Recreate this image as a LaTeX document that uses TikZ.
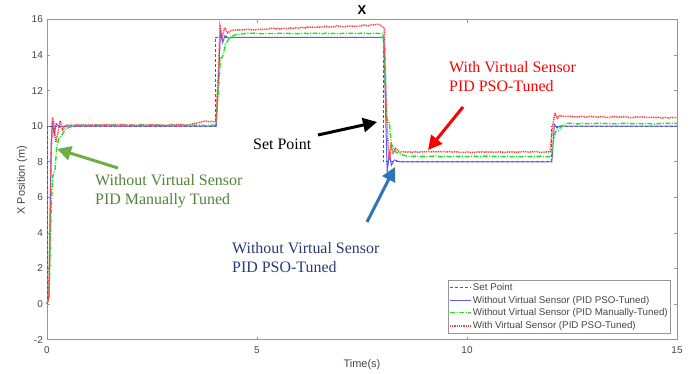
\documentclass[tikz,border=0pt]{standalone}
\usepackage{fontspec}
\setmainfont{Liberation Serif}
\newfontfamily\axfont{Liberation Sans}
\usetikzlibrary{positioning}
\usetikzlibrary{fit}
\usetikzlibrary{arrows.meta}
\definecolor{axline}{RGB}{150,150,150}
\definecolor{axtext}{RGB}{70,70,70}
\definecolor{spgray}{RGB}{90,90,90}
\definecolor{pidblue}{RGB}{90,90,255}
\definecolor{pidgreen}{RGB}{30,230,30}
\definecolor{pidred}{RGB}{255,60,60}
\definecolor{notegreen}{RGB}{84,130,53}
\definecolor{arrgreen}{RGB}{112,173,71}
\definecolor{arrblue}{RGB}{46,117,182}
\definecolor{noteblue}{RGB}{40,60,115}
\tikzset{ticklab/.style={font=\axfont\fontsize{10}{12}\selectfont, text=axtext, inner sep=0pt}}
\tikzset{axlab/.style={font=\axfont\fontsize{11}{13}\selectfont, text=axtext, inner sep=0pt}}
\tikzset{legtxt/.style={font=\axfont\fontsize{9.8}{11}\selectfont, text=axtext, inner sep=0pt, anchor=west}}
\tikzset{setline/.style={spgray, line width=1bp, dash pattern=on 3bp off 2bp}}
\tikzset{blueline/.style={pidblue, line width=1bp}}
\tikzset{greenline/.style={pidgreen, line width=1.4bp, dash pattern=on 5bp off 1.5bp on 1bp off 1.5bp}}
\tikzset{redline/.style={pidred, line width=1.5bp, dash pattern=on 1bp off 0.8bp}}
\tikzset{note/.style={font=\fontsize{16}{19}\selectfont, align=left, inner sep=0pt, anchor=west}}
\tikzset{callout/.style={line width=3bp, -{Triangle[length=14bp,width=14bp]}}}

\begin{document}
\begin{tikzpicture}[x=1bp, y=1bp]
  \useasboundingbox (0,0) rectangle (693,373);

  % axes, data units: 42bp per second, 17.78bp per metre
  \begin{scope}[shift={(47,69)}, x=42bp, y=17.78bp]
    \draw[axline, line width=0.6bp] (0,-2) rectangle (15,16);
    \foreach \y in {-2,0,...,16} {
      \draw[axline, line width=0.6bp] (0,\y) -- ++(3bp,0) (15,\y) -- ++(-3bp,0);
      \node[ticklab, anchor=east] (ytick\y) at ([xshift=-4bp]0,\y) {\y};
    }
    \foreach \x in {0,5,10,15} {
      \draw[axline, line width=0.6bp] (\x,-2) -- ++(0,3bp) (\x,16) -- ++(0,-3bp);
      \node[ticklab, anchor=north] (xtick\x) at ([yshift=-7bp]\x,-2) {\x};
    }

    % set point
    \draw[setline] (0,0) -- (0,10) -- (4,10) -- (4,15) -- (8,15) -- (8,8)
      -- (12,8) -- (12,10) -- (15,10);

    % without virtual sensor, PSO tuned
    \draw[blueline] (0,0) -- (0.05,0.5) -- (0.1,9) -- (0.13,10.3) -- (0.17,9.5)
      -- (0.22,10.15) -- (0.3,9.95) -- (0.4,10) -- (4.03,10) -- (4.09,13)
      -- (4.13,15.35) -- (4.18,14.7) -- (4.24,15.1) -- (4.32,14.95) -- (4.45,15)
      -- (8.02,15) -- (8.07,10) -- (8.1,7.4) -- (8.15,8.5) -- (8.2,7.8)
      -- (8.27,8.1) -- (8.4,8) -- (12.02,8) -- (12.08,10.1) -- (12.14,9.9)
      -- (12.22,10.02) -- (12.3,10) -- (15,10);

    % without virtual sensor, manually tuned
    \pgfmathsetseed{11}
    \draw[greenline] (0,0) -- (0.05,0.4) -- (0.1,5.5) -- (0.14,7.2) -- (0.19,7.5)
      -- (0.23,8.8) -- (0.28,9.3) -- (0.35,9.5) -- (0.45,9.85) -- (0.6,10)
      -- plot[domain=0.7:4.02, samples=40] (\x,{10.05+0.02*rand})
      -- (4.08,12) -- (4.13,13.8) -- (4.18,13.9) -- (4.25,14.6) -- (4.35,15)
      -- (4.5,15.15)
      -- plot[domain=4.7:8, samples=40] (\x,{15.22+0.02*rand})
      -- (8.05,12.5) -- (8.09,10.4) -- (8.15,10.2) -- (8.2,9) -- (8.3,8.55)
      -- (8.45,8.4)
      -- plot[domain=8.6:12, samples=40] (\x,{8.3+0.02*rand})
      -- (12.06,9.2) -- (12.11,9.7) -- (12.18,9.8) -- (12.3,10.1)
      -- plot[domain=12.4:15, samples=30] (\x,{10.15+0.02*rand});

    % with virtual sensor, PSO tuned
    \pgfmathsetseed{5}
    \draw[redline] (0,0) -- (0.04,0.3) -- (0.1,8.5) -- (0.13,10.5) -- (0.17,10.1)
      -- (0.21,9.1) -- (0.26,9.6) -- (0.31,10.3) -- (0.37,9.8) -- (0.45,10.05)
      -- plot[domain=0.5:3.4, samples=60] (\x,{10.07+0.03*rand})
      -- (3.6,10.2)
      -- plot[domain=3.7:4.02, samples=8] (\x,{10.27+0.03*rand})
      -- (4.08,13) -- (4.12,15.6) -- (4.17,15) -- (4.23,15.55) -- (4.3,15.25)
      -- (4.4,15.4)
      -- plot[domain=4.5:7.95, samples=70] (\x,{15.4+0.3*(\x-4.5)/3.45+0.04*rand})
      -- (8.03,15.5) -- (8.08,11) -- (8.12,9) -- (8.15,8.1) -- (8.19,8.9)
      -- (8.24,8.5) -- (8.3,8.75) -- (8.4,8.55)
      -- plot[domain=8.5:11.98, samples=70] (\x,{8.55+0.03*rand})
      -- (12.04,10) -- (12.09,10.75) -- (12.15,10.45) -- (12.22,10.6)
      -- plot[domain=12.3:15, samples=55] (\x,{10.55-0.08*(\x-12.3)/2.7+0.03*rand});
  \end{scope}

  \node[font=\axfont\bfseries\fontsize{13}{15}\selectfont, inner sep=0pt] (title) at (362,363) {X};
  \node[axlab] (xlabel) at (362,8) {Time(s)};
  \node[axlab, rotate=90] (ylabel) at (22,193) {X Position (m)};

  % legend
  \coordinate (leg1a) at (450,85.7);  \coordinate (leg1b) at (471,85.7);
  \coordinate (leg2a) at (450,72.3);  \coordinate (leg2b) at (471,72.3);
  \coordinate (leg3a) at (450,60.3);  \coordinate (leg3b) at (471,60.3);
  \coordinate (leg4a) at (450,47);    \coordinate (leg4b) at (471,47);
  \draw[setline] (leg1a) -- (leg1b);
  \draw[blueline] (leg2a) -- (leg2b);
  \draw[greenline] (leg3a) -- (leg3b);
  \draw[redline] (leg4a) -- (leg4b);
  \node[legtxt] (leg1) at (472.7,85.7) {Set Point};
  \node[legtxt] (leg2) at (472.7,72.3) {Without Virtual Sensor (PID PSO-Tuned)};
  \node[legtxt] (leg3) at (472.7,60.3) {Without Virtual Sensor (PID Manually-Tuned)};
  \node[legtxt] (leg4) at (472.7,47) {With Virtual Sensor (PID PSO-Tuned)};
  \node[draw=axline, line width=0.6bp, inner xsep=2bp, inner ysep=3bp,
    fit=(leg1a) (leg1) (leg3) (leg4)] (legend) {};

  % annotations
  \node[note, text=notegreen] (manual) at (95,182) {Without Virtual Sensor\\PID Manually Tuned};
  \node[note] (setpt) at (253,229) {Set Point};
  \node[note, text=red] (withvs) at (449,296.3) {With Virtual Sensor\\PID PSO-Tuned};
  \node[note, text=noteblue] (psonovs) at (232,115.2) {Without Virtual Sensor\\PID PSO-Tuned};

  \coordinate (manual tail) at (118,205);  \coordinate (manual tip) at (57,224);
  \coordinate (setpt tail) at (318,238);   \coordinate (setpt tip) at (377,251);
  \coordinate (withvs tail) at (463,266);  \coordinate (withvs tip) at (428,223);
  \coordinate (psonovs tail) at (367,151); \coordinate (psonovs tip) at (395,206);
  \draw[callout, arrgreen] (manual tail) -- (manual tip);
  \draw[callout, black] (setpt tail) -- (setpt tip);
  \draw[callout, red] (withvs tail) -- (withvs tip);
  \draw[callout, arrblue] (psonovs tail) -- (psonovs tip);
\end{tikzpicture}
\end{document}
